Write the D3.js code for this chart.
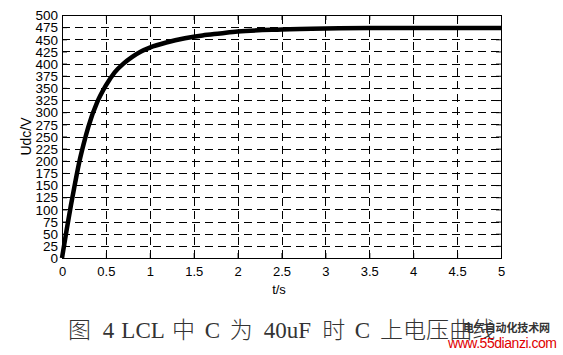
<!DOCTYPE html>
<html><head><meta charset="utf-8">
<script src="https://d3js.org/d3.v7.min.js"></script>
<style>body{margin:0;background:#fff}svg{display:block}</style>
</head><body>
<script>
const tValues = [0,0.05,0.1,0.15,0.2,0.25,0.3,0.4,0.5,0.6,0.7,0.8,0.9,1.0,1.2,1.4,1.6,1.8,2.0,2.5,3.0,3.5,4.0,4.5,5.0];
const udcValues = [0,55,107,155,200,237,270,320,355,382,400,414,425,433,444,452,458,462,466,470,472,473,473,473,473];
const xTicks = [0,0.5,1,1.5,2,2.5,3,3.5,4,4.5,5];
const yTicks = d3.range(0,501,25);
const xLabel = "t/s", yLabel = "Udc/V";
const caption = "图 4 LCL 中 C 为 40uF 时 C 上电压曲线";
const wm1 = "电气自动化技术网", wm2 = "www.55dianzi.com";

const W=563,H=355, L=62, R=501, T=15, B=258;
const svg = d3.select("body").append("svg").attr("width",W).attr("height",H);
const x = d3.scaleLinear().domain([0,5]).range([L,R]);
const y = d3.scaleLinear().domain([0,500]).range([B,T]);

const g = svg.append("g");
g.selectAll(".hg").data(yTicks.filter(v=>v>0&&v<500)).join("line")
 .attr("x1",L).attr("x2",R).attr("y1",d=>Math.round(y(d))+0.5).attr("y2",d=>Math.round(y(d))+0.5)
 .attr("stroke","#000").attr("stroke-width",1).attr("stroke-dasharray","8,5");
g.selectAll(".vg").data(xTicks.filter(v=>v>0&&v<5)).join("line")
 .attr("y1",B).attr("y2",T).attr("x1",d=>Math.round(x(d))+0.5).attr("x2",d=>Math.round(x(d))+0.5)
 .attr("stroke","#000").attr("stroke-width",1).attr("stroke-dasharray","8,5");

const ax = d3.axisBottom(x).tickValues(xTicks).tickSize(-5).tickPadding(9).tickFormat(d3.format("~g"));
const axg = svg.append("g").attr("transform",`translate(0,${B})`).call(ax);
axg.select(".domain").remove();
axg.selectAll("text").attr("font-family","Liberation Sans, Arial, sans-serif").attr("font-size",13).attr("fill","#000");
const axt = d3.axisTop(x).tickValues(xTicks).tickSize(-5).tickFormat("");
svg.append("g").attr("transform",`translate(0,${T})`).call(axt).select(".domain").remove();

const ay = d3.axisLeft(y).tickValues(yTicks).tickSize(-5).tickPadding(4);
const ayg = svg.append("g").attr("transform",`translate(${L},0)`).call(ay);
ayg.select(".domain").remove();
ayg.selectAll("text").attr("font-family","Liberation Sans Narrow, Arial Narrow, sans-serif").attr("font-size",13.5).attr("fill","#000").attr("dy","0.35em");
const ayr = d3.axisRight(y).tickValues(yTicks).tickSize(-5).tickFormat("");
svg.append("g").attr("transform",`translate(${R},0)`).call(ayr).select(".domain").remove();

svg.append("rect").attr("x",L+0.5).attr("y",T+0.5).attr("width",R-L).attr("height",B-T)
 .attr("fill","none").attr("stroke","#000").attr("stroke-width",1);

const pts = tValues.map((t,i)=>[t,udcValues[i]]);
svg.append("path").datum(pts)
 .attr("d",d3.line().x(d=>x(d[0])).y(d=>y(d[1])).curve(d3.curveMonotoneX))
 .attr("fill","none").attr("stroke","#000").attr("stroke-width",4.5).attr("stroke-linejoin","round");

svg.append("text").attr("x",279).attr("y",294).attr("text-anchor","middle")
 .attr("font-family","Liberation Sans, Arial, sans-serif").attr("font-size",13).text(xLabel);
svg.append("text").attr("transform",`translate(31,${(T+B)/2}) rotate(-90)`).attr("text-anchor","middle")
 .attr("font-family","Liberation Sans, Arial, sans-serif").attr("font-size",14).text(yLabel);

// caption laid out as cells: full width CJK chars, half width ASCII; ASCII words kept together
const fs = 23, half = 11.55;
const runs = [];
let cx = 68;
for (const c of Array.from(caption)) {
  const cjk = c.charCodeAt(0) > 255;
  const w = cjk ? 2*half : half;
  if (c === " ") { cx += w; runs.push(null); continue; }
  const last = runs[runs.length-1];
  if (!cjk && last && !last.cjk) { last.t += c; last.x1 = cx + w; }
  else runs.push({t: c, x0: cx, x1: cx + w, cjk});
  cx += w;
}
const cap = svg.append("text").attr("y",338).attr("font-size",fs).attr("fill","#333").attr("text-anchor","middle");
cap.selectAll("tspan").data(runs.filter(d=>d)).join("tspan")
 .attr("x",d=>(d.x0+d.x1)/2)
 .attr("font-family",d=>d.cjk ? "'Noto Sans CJK SC', sans-serif" : "Liberation Serif, serif")
 .attr("font-weight",d=>d.cjk ? 300 : 400)
 .text(d=>d.t);

svg.append("text").attr("x",463).attr("y",332)
 .attr("font-family","'Noto Sans CJK SC', sans-serif").attr("font-size",11).attr("font-weight",700).attr("fill","#333")
 .attr("textLength",87).text(wm1);
svg.append("text").attr("x",448).attr("y",348)
 .attr("font-family","Liberation Sans, Arial, sans-serif").attr("font-size",14).attr("fill","#e00000")
 .attr("textLength",109).text(wm2);
</script>
</body></html>
